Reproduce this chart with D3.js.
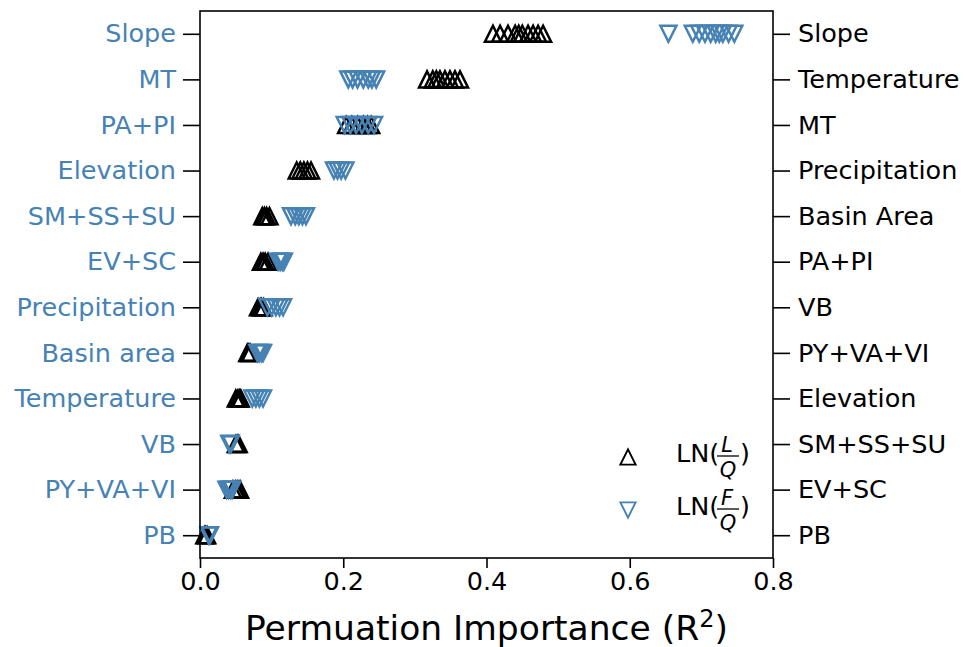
<!DOCTYPE html>
<html>
<head>
<meta charset="utf-8">
<script src="https://cdn.jsdelivr.net/npm/d3@7"></script>
<style>
  body { margin: 0; background: #fff; }
  text { font-family: "DejaVu Sans", sans-serif; }
</style>
</head>
<body>
<div id="chart"></div>
<script>
// row labels, top to bottom
var fqLabels = ["Slope", "MT", "PA+PI", "Elevation", "SM+SS+SU", "EV+SC", "Precipitation",
    "Basin area", "Temperature", "VB", "PY+VA+VI", "PB"];
var lqLabels = ["Slope", "Temperature", "MT", "Precipitation", "Basin Area", "PA+PI", "VB",
    "PY+VA+VI", "Elevation", "SM+SS+SU", "EV+SC", "PB"];

// permutation importance of each run, LN(L/Q) (black), one list per row
var lqRuns = [
    [0.409, 0.419, 0.430, 0.440, 0.445, 0.450, 0.458, 0.465, 0.472, 0.479],
    [0.317, 0.325, 0.330, 0.335, 0.342, 0.349, 0.356, 0.363],
    [0.204, 0.212, 0.220, 0.228, 0.234, 0.239],
    [0.135, 0.140, 0.145, 0.150, 0.155],
    [0.087, 0.090, 0.093, 0.097],
    [0.085, 0.088, 0.091, 0.095],
    [0.081, 0.084, 0.086, 0.089],
    [0.066, 0.068, 0.070],
    [0.050, 0.053, 0.055, 0.057],
    [0.050, 0.052, 0.054],
    [0.046, 0.050, 0.053, 0.056],
    [0.006, 0.008, 0.010]
];

// LN(F/Q) (blue)
var fqRuns = [
    [0.654, 0.688, 0.697, 0.705, 0.713, 0.720, 0.725, 0.730, 0.738, 0.746],
    [0.207, 0.213, 0.220, 0.228, 0.235, 0.240, 0.246],
    [0.202, 0.210, 0.218, 0.226, 0.235, 0.243],
    [0.187, 0.192, 0.197, 0.203],
    [0.127, 0.133, 0.138, 0.143, 0.148],
    [0.109, 0.112, 0.115, 0.117],
    [0.094, 0.100, 0.106, 0.111, 0.116],
    [0.080, 0.083, 0.086, 0.088],
    [0.073, 0.078, 0.083, 0.088],
    [0.041, 0.042, 0.043],
    [0.037, 0.040, 0.043, 0.045],
    [0.012, 0.013, 0.014]
];

var xTicks = [0.0, 0.2, 0.4, 0.6, 0.8];

var width = 965, height = 647;
var plot = { left: 200, right: 773, top: 11, bottom: 558 };
var black = "#000000", blue = "#4682b4";
var fs = "25.5px";

var svg = d3.select("#chart").append("svg")
    .attr("width", width)
    .attr("height", height);

var x = d3.scaleLinear()
    .domain([0, 0.8])
    .range([plot.left, plot.right]);

var y = d3.scalePoint()
    .domain(d3.range(fqLabels.length))
    .range([plot.top, plot.bottom])
    .padding(0.5);

// triangle paths (matplotlib style: bbox centred on the point)
var s = 8;
var upTri = "M0," + (-s) + "L" + s + "," + s + "L" + (-s) + "," + s + "Z";
var downTri = "M0," + s + "L" + s + "," + (-s) + "L" + (-s) + "," + (-s) + "Z";

function flat(runs) {
    var out = [];
    runs.forEach((row, i) => row.forEach(v => out.push({ row: i, value: v })));
    return out;
}

// black markers first, blue on top
svg.append("g").selectAll("path")
    .data(flat(lqRuns))
    .enter().append("path")
    .attr("d", upTri)
    .attr("transform", d => "translate(" + x(d.value) + "," + y(d.row) + ")")
    .attr("fill", "none")
    .attr("stroke", black)
    .attr("stroke-width", 2.5);

svg.append("g").selectAll("path")
    .data(flat(fqRuns))
    .enter().append("path")
    .attr("d", downTri)
    .attr("transform", d => "translate(" + x(d.value) + "," + y(d.row) + ")")
    .attr("fill", "none")
    .attr("stroke", blue)
    .attr("stroke-width", 2.5);

// frame
svg.append("rect")
    .attr("x", plot.left)
    .attr("y", plot.top)
    .attr("width", plot.right - plot.left)
    .attr("height", plot.bottom - plot.top)
    .attr("fill", "none")
    .attr("stroke", "#000")
    .attr("stroke-width", 1.6);

// left axis (blue labels)
var leftAxis = svg.append("g")
    .attr("transform", "translate(" + plot.left + ",0)")
    .call(d3.axisLeft(y).tickSize(17).tickPadding(7).tickFormat(i => fqLabels[i]));
leftAxis.select(".domain").remove();
leftAxis.selectAll("line").attr("stroke-width", 1.6);
leftAxis.selectAll("text")
    .attr("fill", blue)
    .style("font-size", fs);

// right axis (black labels)
var rightAxis = svg.append("g")
    .attr("transform", "translate(" + plot.right + ",0)")
    .call(d3.axisRight(y).tickSize(17).tickPadding(8).tickFormat(i => lqLabels[i]));
rightAxis.select(".domain").remove();
rightAxis.selectAll("line").attr("stroke-width", 1.6);
rightAxis.selectAll("text")
    .attr("fill", black)
    .style("font-size", fs);

// bottom axis
var bottomAxis = svg.append("g")
    .attr("transform", "translate(0," + plot.bottom + ")")
    .call(d3.axisBottom(x).tickValues(xTicks).tickSize(10).tickPadding(4).tickFormat(d3.format(".1f")));
bottomAxis.select(".domain").remove();
bottomAxis.selectAll("line").attr("stroke-width", 1.6);
bottomAxis.selectAll("text")
    .attr("fill", black)
    .style("font-size", fs);

// x axis label
var xl = svg.append("text")
    .attr("x", (plot.left + plot.right) / 2)
    .attr("y", 640)
    .attr("text-anchor", "middle")
    .style("font-size", "34.5px")
    .text("Permuation Importance (R");
xl.append("tspan")
    .attr("dy", -13)
    .style("font-size", "24px")
    .text("2");
xl.append("tspan")
    .attr("dy", 13)
    .text(")");

// legend
var legend = [
    { name: "L", path: upTri, color: black, y: 457 },
    { name: "F", path: downTri, color: blue, y: 510 }
];
legend.forEach(d => {
    var g = svg.append("g");
    g.append("path")
        .attr("d", d.path)
        .attr("transform", "translate(628," + d.y + ") scale(0.95)")
        .attr("fill", "none")
        .attr("stroke", d.color)
        .attr("stroke-width", 2);
    g.append("text")
        .attr("x", 676)
        .attr("y", d.y + 5)
        .style("font-size", fs)
        .text("LN(");
    g.append("text")
        .attr("x", 727)
        .attr("y", d.y - 5)
        .attr("text-anchor", "middle")
        .style("font-size", "21px")
        .style("font-style", "italic")
        .text(d.name);
    g.append("line")
        .attr("x1", 717).attr("x2", 739)
        .attr("y1", d.y - 1).attr("y2", d.y - 1)
        .attr("stroke", "#000")
        .attr("stroke-width", 1.3);
    g.append("text")
        .attr("x", 728)
        .attr("y", d.y + 19.5)
        .attr("text-anchor", "middle")
        .style("font-size", "21px")
        .style("font-style", "italic")
        .text("Q");
    g.append("text")
        .attr("x", 740)
        .attr("y", d.y + 5)
        .style("font-size", fs)
        .text(")");
});
</script>
</body>
</html>
